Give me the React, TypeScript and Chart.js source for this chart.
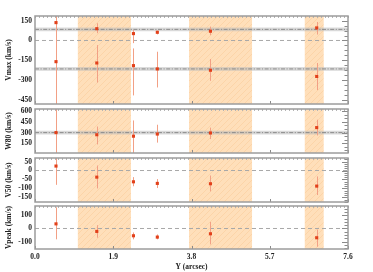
import React, { useEffect, useRef } from 'react';
import { Chart, registerables } from 'chart.js';
Chart.register(...registerables);

// ---- data ----
const xPositions = [0.51, 1.5, 2.39, 2.97, 4.26, 6.84];
const xTicks = [0, 1.9, 3.8, 5.7, 7.6];
const xTickLabels = ['0.0', '1.9', '3.8', '5.7', '7.6'];
const shadedStart = [1.04, 3.74, 6.55];
const shadedEnd = [2.33, 5.27, 7.01];

const vmaxHigh = [135, 89, 52, 62, 70, 95];
const vmaxHighLo = [-600, 55, -20, 46, 40, 45];
const vmaxHighHi = [300, 130, 80, 74, 105, 140];
const vmaxLow = [-160, -170, -190, -215, -225, -272];
const vmaxLowLo = [-600, -318, -415, -355, -305, -375];
const vmaxLowHi = [300, -35, -60, -85, -140, -170];
const vmaxBands = [84, -215];
const vmaxTicks = [150, 0, -150, -300, -450];

const w80 = [300, 270, 250, 280, 295, 370];
const w80Lo = [-100, 135, -100, 160, 210, 260];
const w80Hi = [700, 385, 470, 410, 370, 480];
const w80Bands = [300];
const w80Ticks = [600, 450, 300, 150];

const v50 = [25, -37, -63, -72, -74, -87];
const v50Lo = [-80, -100, -88, -98, -117, -137];
const v50Hi = [80, 28, -37, -48, -28, -33];
const v50Ticks = [50, 0, -50, -100, -150];

const vpeak = [35, -22, -55, -65, -40, -70];
const vpeakLo = [-82, -70, -82, -82, -120, -138];
const vpeakHi = [160, 25, -30, -45, 50, -8];
const vpeakTicks = [100, 0, -100];

// ---- panel configuration ----
type Series = { vals: number[]; lo: number[]; hi: number[] };
type PanelDef = {
  title: string;
  min: number;
  max: number;
  ticks: number[];
  minor: number;
  series: Series[];
  bands: number[];
  bandHalf: number;
  zero: boolean;
  top: number;
  bottom: number;
  showX: boolean;
};

const W = 373;
const H = 272;
const FONT = { family: 'Liberation Serif', size: 7.5, weight: 'bold' as const };
const TXT = '#222';

const panels: PanelDef[] = [
  {
    title: 'Vmax (km/s)', min: -480, max: 185, ticks: vmaxTicks, minor: 37.5,
    series: [
      { vals: vmaxHigh, lo: vmaxHighLo, hi: vmaxHighHi },
      { vals: vmaxLow, lo: vmaxLowLo, hi: vmaxLowHi },
    ],
    bands: vmaxBands, bandHalf: 14, zero: true, top: 16, bottom: 104, showX: false,
  },
  {
    title: 'W80 (km/s)', min: 15, max: 630, ticks: w80Ticks, minor: 50,
    series: [{ vals: w80, lo: w80Lo, hi: w80Hi }],
    bands: w80Bands, bandHalf: 26, zero: false, top: 109, bottom: 153, showX: false,
  },
  {
    title: 'V50 (km/s)', min: -176, max: 70, ticks: v50Ticks, minor: 12.5,
    series: [{ vals: v50, lo: v50Lo, hi: v50Hi }],
    bands: [], bandHalf: 0, zero: true, top: 158, bottom: 202, showX: false,
  },
  {
    title: 'Vpeak (km/s)', min: -155, max: 170, ticks: vpeakTicks, minor: 25,
    series: [{ vals: vpeak, lo: vpeakLo, hi: vpeakHi }],
    bands: [], bandHalf: 0, zero: true, top: 206, bottom: 249, showX: true,
  },
];

function makePattern(ctx: CanvasRenderingContext2D) {
  const c = document.createElement('canvas');
  c.width = 6;
  c.height = 6;
  const p = c.getContext('2d')!;
  p.fillStyle = '#FFDFBA';
  p.fillRect(0, 0, 6, 6);
  p.strokeStyle = '#FCD4A8';
  p.lineWidth = 1;
  p.beginPath();
  p.moveTo(0, 6);
  p.lineTo(6, 0);
  p.stroke();
  return ctx.createPattern(c, 'repeat') || '#FFDFBA';
}

function Panel({ def }: { def: PanelDef }) {
  const ref = useRef<HTMLCanvasElement | null>(null);
  useEffect(() => {
    const canvas = ref.current!;
    const deco = {
      id: 'deco',
      beforeDatasetsDraw(chart: any) {
        const { ctx, chartArea: a } = chart;
        const xs = chart.scales.x;
        const ys = chart.scales.y;
        ctx.save();
        ctx.beginPath();
        ctx.rect(a.left, a.top, a.right - a.left, a.bottom - a.top);
        ctx.clip();
        ctx.fillStyle = makePattern(ctx);
        shadedStart.forEach((s, i) => {
          const x0 = xs.getPixelForValue(s);
          const x1 = xs.getPixelForValue(shadedEnd[i]);
          ctx.fillRect(x0, a.top, x1 - x0, a.bottom - a.top);
        });
        def.bands.forEach((c) => {
          const y0 = ys.getPixelForValue(c + def.bandHalf);
          const y1 = ys.getPixelForValue(c - def.bandHalf);
          ctx.fillStyle = 'rgba(185,185,185,0.55)';
          ctx.fillRect(a.left, y0, a.right - a.left, y1 - y0);
          const yc = ys.getPixelForValue(c);
          ctx.strokeStyle = '#8c8c8c';
          ctx.lineWidth = 1;
          ctx.setLineDash([4, 1.5, 1.2, 1.5]);
          ctx.beginPath();
          ctx.moveTo(a.left, yc);
          ctx.lineTo(a.right, yc);
          ctx.stroke();
        });
        if (def.zero) {
          const y0 = ys.getPixelForValue(0);
          ctx.strokeStyle = '#a8a8a8';
          ctx.lineWidth = 1;
          ctx.setLineDash([4, 3]);
          ctx.beginPath();
          ctx.moveTo(a.left, y0);
          ctx.lineTo(a.right, y0);
          ctx.stroke();
        }
        ctx.setLineDash([]);
        ctx.strokeStyle = '#F2A085';
        ctx.lineWidth = 1;
        def.series.forEach((s) => {
          xPositions.forEach((xv, i) => {
            const x = Math.round(xs.getPixelForValue(xv)) + 0.5;
            ctx.beginPath();
            ctx.moveTo(x, ys.getPixelForValue(s.lo[i]));
            ctx.lineTo(x, ys.getPixelForValue(s.hi[i]));
            ctx.stroke();
          });
        });
        ctx.restore();
      },
      afterDraw(chart: any) {
        const { ctx, chartArea: a } = chart;
        const xs = chart.scales.x;
        const ys = chart.scales.y;
        ctx.save();
        ctx.strokeStyle = '#8a8a8a';
        ctx.lineWidth = 1;
        // right-side minor ticks
        const start = Math.ceil(def.min / def.minor) * def.minor;
        for (let v = start; v <= def.max; v += def.minor) {
          const y = Math.round(ys.getPixelForValue(v)) + 0.5;
          const isMajor = def.ticks.some((t) => Math.abs(t - v) < 1e-6);
          ctx.beginPath();
          ctx.moveTo(a.right, y);
          ctx.lineTo(a.right - (isMajor ? 6 : 3.5), y);
          ctx.stroke();
        }
        // top minor ticks
        ctx.strokeStyle = '#b5b5b5';
        for (let v = 0; v <= 7.6; v += 0.095) {
          const x = Math.round(xs.getPixelForValue(v)) + 0.5;
          ctx.beginPath();
          ctx.moveTo(x, a.top);
          ctx.lineTo(x, a.top + 2);
          ctx.stroke();
        }
        // bottom major ticks
        ctx.strokeStyle = '#8a8a8a';
        xTicks.forEach((v) => {
          const x = Math.round(xs.getPixelForValue(v)) + 0.5;
          ctx.beginPath();
          ctx.moveTo(x, a.bottom);
          ctx.lineTo(x, a.bottom - 3);
          ctx.stroke();
        });
        // frame
        ctx.strokeStyle = '#9c9c9c';
        ctx.lineWidth = 1.5;
        ctx.strokeRect(a.left, a.top, a.right - a.left, a.bottom - a.top);
        ctx.restore();
      },
    };

    const datasets = def.series.map((s) => ({
      data: s.vals.map((v, i) => ({ x: xPositions[i], y: v })),
      pointStyle: 'rect',
      pointRadius: 2.2,
      borderWidth: 0,
      backgroundColor: '#E2401A',
      borderColor: '#E2401A',
    }));

    const xHeight = 23;
    const chart = new Chart(canvas, {
      type: 'scatter',
      data: { datasets: datasets as any },
      options: {
        animation: false,
        responsive: false,
        maintainAspectRatio: false,
        layout: {
          padding: {
            top: def.top,
            left: 0,
            right: W - 348,
            bottom: def.showX ? H - def.bottom - xHeight : H - def.bottom,
          },
        },
        plugins: { legend: { display: false }, tooltip: { enabled: false } },
        scales: {
          x: {
            type: 'linear',
            min: 0,
            max: 7.6,
            display: def.showX,
            afterBuildTicks: (s: any) => {
              s.ticks = xTicks.map((v) => ({ value: v }));
            },
            afterFit: (s: any) => {
              s.height = def.showX ? xHeight : 0;
            },
            ticks: {
              autoSkip: false,
              maxRotation: 0,
              padding: 4,
              color: TXT,
              font: FONT,
              callback: (v: any) => {
                const i = xTicks.findIndex((t) => Math.abs(t - Number(v)) < 1e-6);
                return i >= 0 ? xTickLabels[i] : '';
              },
            },
            grid: { display: false, drawTicks: false },
            border: { display: false },
            title: { display: true, text: 'Y (arcsec)', color: TXT, font: FONT, padding: { top: 0, bottom: 0 } },
          },
          y: {
            type: 'linear',
            min: def.min,
            max: def.max,
            afterBuildTicks: (s: any) => {
              s.ticks = def.ticks.map((v) => ({ value: v }));
            },
            afterFit: (s: any) => {
              s.width = 35;
            },
            ticks: {
              autoSkip: false,
              padding: 3,
              color: TXT,
              font: FONT,
              callback: (v: any) => String(v),
            },
            grid: { display: false, drawTicks: false },
            border: { display: false },
            title: { display: true, text: def.title, color: TXT, font: FONT, padding: { top: 5, bottom: 0 } },
          },
        },
      },
      plugins: [deco],
    });
    return () => chart.destroy();
  }, [def]);
  return (
    <canvas
      ref={ref}
      width={W}
      height={H}
      style={{ position: 'absolute', left: 0, top: 0, width: W, height: H }}
    />
  );
}

export default function App() {
  return (
    <div style={{ position: 'absolute', left: 0, top: 0, width: W, height: H, background: '#fff' }}>
      {panels.map((p) => (
        <Panel key={p.title} def={p} />
      ))}
    </div>
  );
}
